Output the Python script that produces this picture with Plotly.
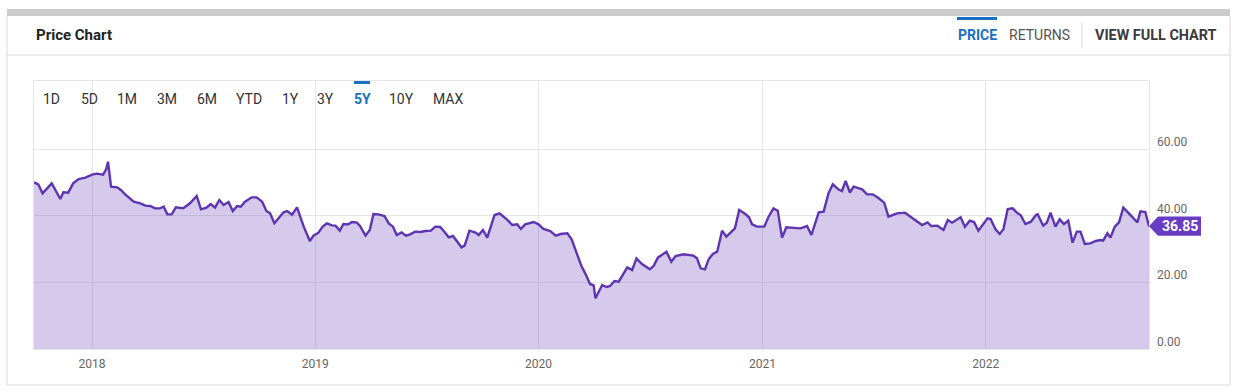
import plotly.graph_objects as go

# ---------------- data ----------------
dates = [
    "2017-09-28", "2017-10-05", "2017-10-12", "2017-10-27", "2017-11-10", "2017-11-15",
    "2017-11-23", "2017-12-01", "2017-12-10", "2017-12-21", "2018-01-01", "2018-01-09",
    "2018-01-19", "2018-01-24", "2018-01-27", "2018-02-01", "2018-02-11", "2018-02-17",
    "2018-02-24", "2018-03-10", "2018-03-21", "2018-03-29", "2018-04-06", "2018-04-14",
    "2018-04-22", "2018-04-28", "2018-05-04", "2018-05-11", "2018-05-18", "2018-05-30",
    "2018-06-10", "2018-06-21", "2018-06-28", "2018-07-07", "2018-07-14", "2018-07-21",
    "2018-07-28", "2018-08-04", "2018-08-12", "2018-08-19", "2018-08-26", "2018-09-01",
    "2018-09-08", "2018-09-19", "2018-09-27", "2018-10-06", "2018-10-13", "2018-10-19",
    "2018-10-26", "2018-11-05", "2018-11-10", "2018-11-16", "2018-11-24", "2018-12-02",
    "2018-12-13", "2018-12-23", "2018-12-29", "2019-01-06", "2019-01-13", "2019-01-20",
    "2019-01-28", "2019-02-03", "2019-02-10", "2019-02-16", "2019-02-24", "2019-03-02",
    "2019-03-10", "2019-03-15", "2019-03-24", "2019-03-31", "2019-04-06", "2019-04-14",
    "2019-04-24", "2019-05-01", "2019-05-08", "2019-05-14", "2019-05-22", "2019-05-29",
    "2019-06-05", "2019-06-13", "2019-06-22", "2019-06-30", "2019-07-09", "2019-07-16",
    "2019-07-24", "2019-07-31", "2019-08-07", "2019-08-14", "2019-08-21", "2019-08-28",
    "2019-09-02", "2019-09-10", "2019-09-20", "2019-09-25", "2019-10-02", "2019-10-09",
    "2019-10-21", "2019-10-29", "2019-11-10", "2019-11-19", "2019-11-27", "2019-12-03",
    "2019-12-10", "2019-12-24", "2020-01-01", "2020-01-09", "2020-01-20", "2020-01-29",
    "2020-02-06", "2020-02-17", "2020-02-24", "2020-03-03", "2020-03-11", "2020-03-18",
    "2020-03-25", "2020-03-31", "2020-04-03", "2020-04-14", "2020-04-21", "2020-04-27",
    "2020-05-04", "2020-05-11", "2020-05-25", "2020-06-02", "2020-06-09", "2020-06-18",
    "2020-07-01", "2020-07-07", "2020-07-14", "2020-07-28", "2020-08-05", "2020-08-12",
    "2020-08-25", "2020-09-10", "2020-09-16", "2020-09-22", "2020-09-29", "2020-10-05",
    "2020-10-12", "2020-10-19", "2020-10-27", "2020-11-03", "2020-11-17", "2020-11-24",
    "2020-12-04", "2020-12-10", "2020-12-15", "2020-12-23", "2021-01-04", "2021-01-11",
    "2021-01-19", "2021-01-26", "2021-02-02", "2021-02-09", "2021-02-16", "2021-03-04",
    "2021-03-15", "2021-03-22", "2021-04-03", "2021-04-11", "2021-04-19", "2021-04-26",
    "2021-05-05", "2021-05-11", "2021-05-17", "2021-05-24", "2021-05-30", "2021-06-13",
    "2021-06-21", "2021-06-30", "2021-07-08", "2021-07-19", "2021-07-26", "2021-08-09",
    "2021-08-22", "2021-08-31", "2021-09-08", "2021-09-19", "2021-09-28", "2021-10-04",
    "2021-10-14", "2021-10-24", "2021-10-31", "2021-11-07", "2021-11-21", "2021-11-28",
    "2021-12-06", "2021-12-13", "2021-12-20", "2022-01-04", "2022-01-09", "2022-01-17",
    "2022-01-24", "2022-01-30", "2022-02-06", "2022-02-14", "2022-02-21", "2022-02-27",
    "2022-03-07", "2022-03-16", "2022-03-24", "2022-03-27", "2022-04-05", "2022-04-11",
    "2022-04-17", "2022-04-25", "2022-05-02", "2022-05-09", "2022-05-16", "2022-05-23",
    "2022-05-30", "2022-06-05", "2022-06-12", "2022-06-21", "2022-06-30", "2022-07-08",
    "2022-07-12", "2022-07-19", "2022-07-24", "2022-07-31", "2022-08-07", "2022-08-14",
    "2022-08-23", "2022-08-31", "2022-09-06", "2022-09-11", "2022-09-19", "2022-09-25",
]

prices = [
    50.0, 49.4, 46.7, 49.7, 45.0, 47.0, 46.9, 49.7, 51.0, 51.4, 52.3, 52.6,
    52.3, 53.9, 56.2, 48.7, 48.5, 47.7, 46.4, 44.2, 43.7, 43.0, 42.9, 42.2,
    42.2, 42.7, 40.4, 40.4, 42.5, 42.2, 43.7, 45.9, 41.9, 42.4, 43.5, 42.4,
    44.7, 43.2, 44.1, 41.4, 42.9, 42.7, 44.2, 45.5, 45.5, 44.2, 41.4, 40.7,
    37.7, 39.9, 41.0, 41.4, 40.3, 42.5, 36.7, 32.4, 34.0, 34.9, 36.7, 37.7,
    37.1, 37.0, 35.5, 37.5, 37.4, 38.1, 37.9, 36.9, 34.0, 35.7, 40.5, 40.4,
    39.9, 37.7, 36.7, 34.2, 35.0, 34.0, 34.4, 35.2, 35.1, 35.4, 35.5, 36.7,
    36.6, 35.2, 33.5, 33.9, 32.2, 30.5, 31.0, 35.5, 34.9, 34.2, 35.7, 33.4,
    40.2, 40.7, 38.9, 37.2, 37.4, 36.0, 37.4, 38.1, 37.4, 36.0, 35.4, 34.0,
    34.5, 34.7, 32.9, 29.2, 24.9, 22.4, 19.5, 19.1, 15.2, 19.2, 18.6, 18.9,
    20.4, 20.2, 24.5, 23.7, 27.2, 25.5, 23.9, 24.9, 27.4, 29.2, 26.2, 27.9,
    28.4, 28.0, 27.2, 24.2, 23.9, 26.9, 28.5, 29.2, 35.5, 33.7, 36.2, 41.7,
    40.5, 39.5, 37.4, 36.7, 36.7, 39.7, 42.2, 41.5, 33.4, 36.5, 36.4, 36.2,
    36.9, 34.2, 41.0, 41.2, 46.7, 49.4, 47.9, 47.4, 50.4, 46.9, 48.7, 47.9,
    46.4, 46.4, 45.5, 43.9, 39.7, 40.7, 40.9, 39.7, 38.5, 37.2, 38.0, 36.9,
    37.0, 35.7, 38.7, 37.9, 39.5, 36.7, 38.5, 38.1, 35.5, 39.2, 39.0, 35.9,
    34.5, 35.9, 42.0, 42.2, 40.9, 40.2, 37.5, 38.2, 40.2, 40.4, 37.0, 37.9,
    40.9, 36.7, 38.9, 37.5, 38.5, 31.9, 35.2, 35.2, 31.5, 31.7, 32.4, 32.7,
    32.5, 34.7, 33.4, 36.7, 38.0, 42.4, 40.7, 39.0, 38.0, 41.3, 41.1, 36.85,
]

y_ticks = [0, 20, 40, 60]
range_buttons = ["1D", "5D", "1M", "3M", "6M", "YTD", "1Y", "3Y", "5Y", "10Y", "MAX"]
active_button = "5Y"
title_text = "Price Chart"
last_price = prices[-1]

# ---------------- layout geometry ----------------
W, H = 1242, 392
ML, MR, MT, MB = 34, 93, 81, 43
PW, PH = W - ML - MR, H - MT - MB


def px(x):
    return (x - ML) / PW


def py(y):
    return (H - MB - y) / PH


FONT = "Roboto, 'Open Sans', Arial, sans-serif"
PURPLE = "#5e35b1"
TAG = "#6a3cc4"
BLUE = "#1a6fc4"
GRID = "#e6e6e6"
BORDER = "#d9d9d9"

fig = go.Figure()
fig.add_trace(go.Scatter(
    x=dates, y=prices, mode="lines",
    line=dict(color=PURPLE, width=2.4),
    fill="tozeroy", fillcolor="rgba(103,58,183,0.27)",
    hoverinfo="skip", showlegend=False,
))

shapes = []
# card top grey bar
shapes.append(dict(type="rect", xref="paper", yref="paper",
                   x0=px(7), x1=px(1230), y0=py(9), y1=py(16),
                   fillcolor="#cccccc", line=dict(width=0), layer="below"))
# card borders
for (x0, y0, x1, y1) in [(7, 16, 7, 385), (1230, 16, 1230, 385), (7, 385, 1230, 385), (7, 55, 1230, 55)]:
    shapes.append(dict(type="line", xref="paper", yref="paper",
                       x0=px(x0), x1=px(x1), y0=py(y0), y1=py(y1),
                       line=dict(color=BORDER, width=1), layer="below"))
# header separator
shapes.append(dict(type="line", xref="paper", yref="paper",
                   x0=px(1082), x1=px(1082), y0=py(23), y1=py(48),
                   line=dict(color=BORDER, width=1)))
# blue active markers
shapes.append(dict(type="rect", xref="paper", yref="paper",
                   x0=px(957), x1=px(997), y0=py(17), y1=py(20),
                   fillcolor=BLUE, line=dict(width=0)))
shapes.append(dict(type="rect", xref="paper", yref="paper",
                   x0=px(354), x1=px(370), y0=py(81), y1=py(84),
                   fillcolor=BLUE, line=dict(width=0)))
# last price tag anchored at the last value
shapes.append(dict(type="path", xref="paper", yref="y",
                   xsizemode="pixel", ysizemode="pixel",
                   xanchor=1, yanchor=last_price,
                   path="M 0,0 L 9,9.7 L 52,9.7 L 52,-9.7 L 9,-9.7 Z",
                   fillcolor=TAG, line=dict(width=0)))

annotations = []


def txt(text, x, y, size=14, color="#333", bold=False, anchor="center"):
    annotations.append(dict(
        text=f"<b>{text}</b>" if bold else text,
        xref="paper", yref="paper", x=px(x), y=py(y),
        xanchor=anchor, yanchor="middle", showarrow=False,
        font=dict(family=FONT, size=size, color=color)))


txt(title_text, 34, 35, size=15, color="#222", bold=True, anchor="left")
txt("PRICE", 977, 35, color=BLUE, bold=True)
txt("RETURNS", 1039, 35, color="#555")
txt("VIEW FULL CHART", 1156, 35, size=14.4, color="#3a3a3a", bold=True)

btn_x = [51.5, 89, 127, 166.5, 206.5, 248.5, 290, 325, 362, 401.5, 448.5]
for lab, bx in zip(range_buttons, btn_x):
    if lab == active_button:
        txt(lab, bx, 99, color=BLUE, bold=True)
    else:
        txt(lab, bx, 99, color="#333")

# right-hand value labels, sitting just above each gridline
for v in y_ticks:
    annotations.append(dict(
        text=f"{v:.2f}", xref="paper", yref="y", x=1, y=v,
        xanchor="left", yanchor="middle", xshift=6, yshift=7,
        showarrow=False, font=dict(family=FONT, size=12, color="#666")))

annotations.append(dict(
    text=f"<b>{last_price:.2f}</b>", xref="paper", yref="y",
    x=1, y=last_price, xanchor="center", yanchor="middle", xshift=31,
    showarrow=False, font=dict(family=FONT, size=14, color="white")))

fig.update_layout(
    width=W, height=H,
    margin=dict(l=ML, r=MR, t=MT, b=MB),
    paper_bgcolor="white", plot_bgcolor="white",
    font=dict(family=FONT, color="#666", size=12),
    shapes=shapes, annotations=annotations,
    showlegend=False,
    xaxis=dict(
        range=[dates[0], dates[-1]],
        tick0="2018-01-01", dtick="M12", tickformat="%Y",
        showgrid=True, gridcolor=GRID, gridwidth=1,
        showline=True, linecolor=GRID, mirror=True,
        zeroline=False, ticks="",
        tickfont=dict(family=FONT, size=12, color="#666"),
        ticklabelstandoff=4,
        fixedrange=True,
    ),
    yaxis=dict(
        range=[0, 80.4], side="right",
        tickvals=y_ticks, showticklabels=False,
        showgrid=True, gridcolor=GRID, gridwidth=1,
        showline=True, linecolor=GRID, mirror=True,
        zeroline=False, ticks="",
        fixedrange=True,
    ),
)

fig.write_html(
    "out.html",
    config={"displayModeBar": False},
    post_script="document.body.style.margin='0';document.body.style.overflow='hidden';",
)
